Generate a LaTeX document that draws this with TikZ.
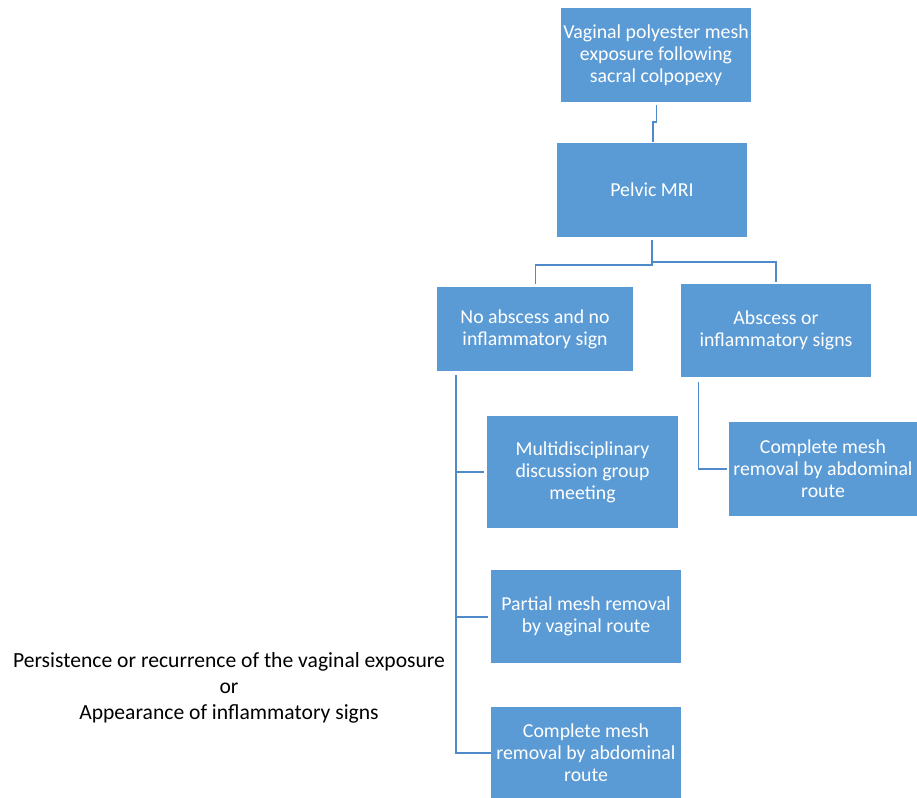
\documentclass[tikz,border=0pt]{standalone}
\usepackage{fontspec}
\setmainfont{Carlito}
\definecolor{boxblue}{HTML}{5B9BD5}
\definecolor{lineblue}{HTML}{4F8ACB}
\begin{document}
\begin{tikzpicture}[x=1pt,y=-1pt,
  box/.style={fill=boxblue, draw=none, text=white, align=center, font=\fontsize{19.8}{22}\selectfont, inner sep=0pt},
  conn/.style={draw=lineblue, line width=1.5pt}]
\useasboundingbox (0,0) rectangle (917,797);
% boxes by corners
\fill[boxblue] (561,8) rectangle (751,102);
\node[box] (b1) at (656,55) {Vaginal polyester mesh\\exposure following\\sacral colpopexy};
\fill[boxblue] (557,143) rectangle (747,237);
\node[box] (b2) at (652,190) {Pelvic MRI};
\fill[boxblue] (437,287) rectangle (633,371);
\node[box] (b3) at (535,329) {No abscess and no\\inflammatory sign};
\fill[boxblue] (681,284) rectangle (871,377);
\node[box] (b4) at (776,330.5) {Abscess or\\inflammatory signs};
\fill[boxblue] (487,416) rectangle (678,528);
\node[box] (b5) at (582.5,472) {Multidisciplinary\\discussion group\\meeting};
\fill[boxblue] (491,570) rectangle (681,663);
\node[box] (b6) at (586,616.5) {Partial mesh removal\\by vaginal route};
\fill[boxblue] (491,707) rectangle (681,800);
\node[box] (b7) at (586,753) {Complete mesh\\removal by abdominal\\route};
\fill[boxblue] (729,422) rectangle (917,516);
\node[box] (b8) at (823,469) {Complete mesh\\removal by abdominal\\route};
\node[align=center, font=\fontsize{21.6}{26}\selectfont, inner sep=0pt] (t) at (229,688) {Persistence or recurrence of the vaginal exposure\\or\\Appearance of inflammatory signs};
% connectors
\coordinate (c1a) at (656.5,105);
\coordinate (c1b) at (653,142);
\draw[conn] (c1a) -- (656.5,122) -- (653,122) -- (c1b);
\coordinate (s0) at (652,240);
\coordinate (s1) at (535.5,284);
\coordinate (s2) at (776,282);
\draw[conn] (s0) -- (652,265) -- (535.5,265) -- (s1);
\draw[conn] (652,262) -- (776,262) -- (s2);
\coordinate (l0) at (456,375);
\draw[conn] (l0) -- (456,753) -- (491,753);
\draw[conn] (456,472) -- (484,472);
\draw[conn] (456,617) -- (488,617);
\coordinate (r0) at (698.5,382);
\draw[conn] (r0) -- (698.5,469) -- (727,469);
\end{tikzpicture}
\end{document}
